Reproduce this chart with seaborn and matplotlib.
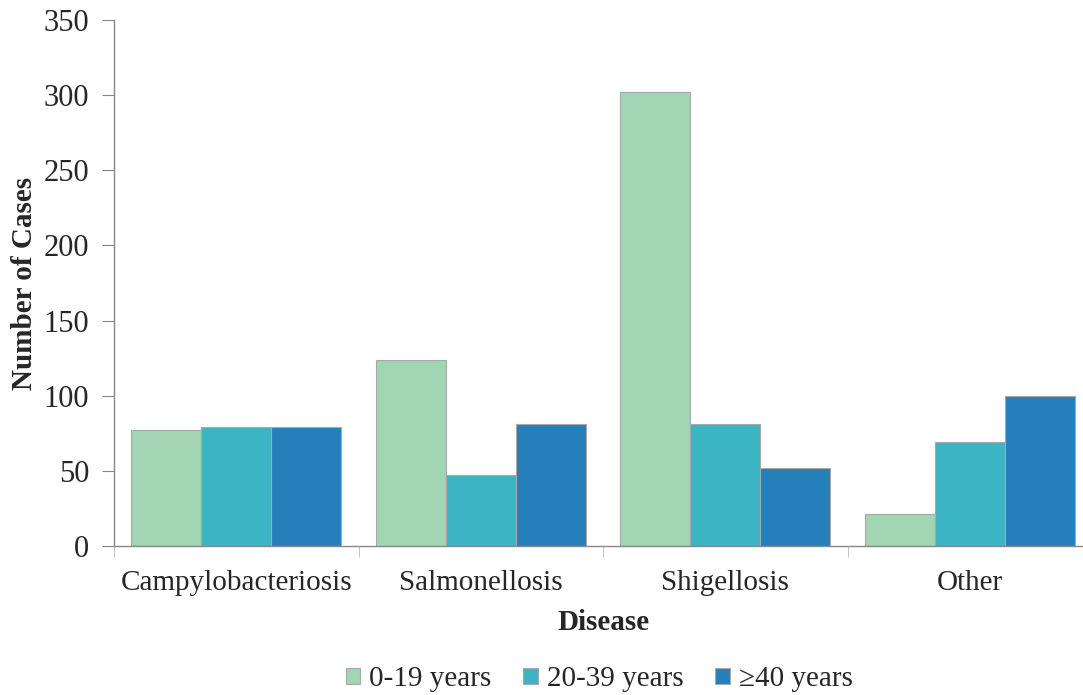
import pandas as pd
import numpy as np
import matplotlib.pyplot as plt
import seaborn as sns
from matplotlib.ticker import FixedLocator

# data
diseases = ['Campylobacteriosis', 'Salmonellosis', 'Shigellosis', 'Other']
age_groups = ['0-19 years', '20-39 years', '\u226540 years']
cases_0_19 = [77, 124, 302, 21]
cases_20_39 = [79, 47, 81, 69]
cases_40_plus = [79, 81, 52, 100]
colors = ['#a2d5b3', '#3bb5c3', '#247fbb']

df = pd.DataFrame({
    'Disease': diseases * 3,
    'Age': np.repeat(age_groups, len(diseases)),
    'Cases': cases_0_19 + cases_20_39 + cases_40_plus,
})

sns.set_style('white')
plt.rcParams['font.family'] = ['Liberation Serif', 'DejaVu Serif']

fig = plt.figure(figsize=(10.83, 6.95), dpi=100)
ax = fig.add_axes([0.1053, 0.2144, 0.903, 0.7568])

sns.barplot(data=df, x='Disease', y='Cases', hue='Age', order=diseases,
            hue_order=age_groups, palette=colors, width=0.86,
            edgecolor='#a8a8a8', linewidth=0.8, saturation=1, ax=ax)

ax.set_xlim(-0.5, 3.5)
ax.set_ylim(0, 350)
ax.set_yticks(range(0, 351, 50))
ax.tick_params(axis='y', labelsize=22, length=9, color='#888888', direction='out', left=True, pad=9)
ax.tick_params(axis='x', which='major', labelsize=21, length=0, pad=17)
ax.xaxis.set_minor_locator(FixedLocator([-0.5, 0.5, 1.5, 2.5, 3.5]))
ax.tick_params(axis='x', which='minor', length=8, color='#bbbbbb', bottom=True, direction='out')

for side in ['top', 'right']:
    ax.spines[side].set_visible(False)
for side in ['left', 'bottom']:
    ax.spines[side].set_color('#888888')
    ax.spines[side].set_linewidth(1.0)

ax.set_xlabel('Disease', fontsize=21, fontweight='bold', labelpad=10)
ax.set_ylabel('Number of Cases', fontsize=21, fontweight='bold', labelpad=4)

ax.legend(loc='upper center', bbox_to_anchor=(0.496, -0.179), ncol=3, frameon=False,
          fontsize=21, handlelength=0.5, handleheight=0.5, handletextpad=0.3,
          columnspacing=1.1, title=None)

fig.savefig('out.png', dpi=100)
